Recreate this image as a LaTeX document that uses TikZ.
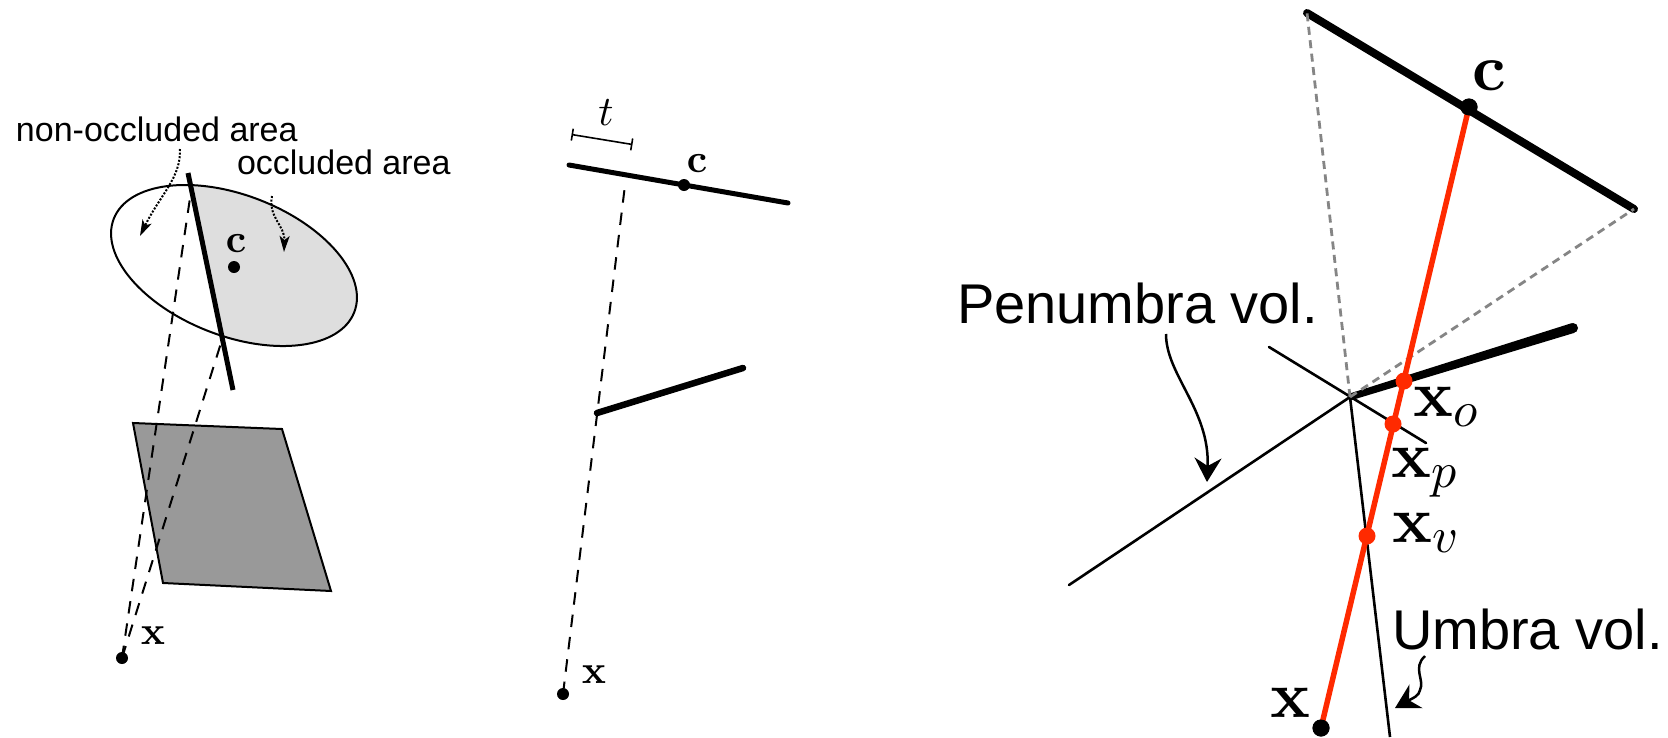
\documentclass[tikz,border=0pt]{standalone}
\usepackage{fontspec}
\setmainfont{Liberation Sans}
\usetikzlibrary{arrows.meta}
\definecolor{redline}{HTML}{FF2A00}
\definecolor{lightfill}{HTML}{DEDEDE}
\definecolor{quadfill}{HTML}{999999}
\definecolor{ghost}{HTML}{858585}
\newcommand{\mfs}[1]{\fontsize{#1}{#1}\selectfont}
\font\bfmid=cmbx10 at 40pt
\font\bfbig=cmbx10 at 66pt
\font\mibig=cmmi10 at 50pt
\font\mit=cmmi10 at 42pt
\newcommand{\vecsub}[1]{{\bfbig x}\lower 10.5pt\hbox{\mibig #1}}
\tikzset{
  x=1pt,y=-1pt,
  lbl/.style={inner sep=0pt,outer sep=0pt,anchor=base west},
  smalltxt/.style={lbl,font=\mfs{34}},
  bigtxt/.style={lbl,font=\mfs{56}},
  midmath/.style={inner sep=0pt,outer sep=0pt,anchor=base,font=\bfmid},
  bigmath/.style={lbl},
  dotb/.style={circle,fill=black,inner sep=0pt,outer sep=0pt,minimum size=12pt},
  dotbig/.style={circle,fill=black,inner sep=0pt,outer sep=0pt,minimum size=17pt},
  dotred/.style={circle,fill=redline,inner sep=0pt,outer sep=0pt,minimum size=17pt},
  blade/.style={line width=5pt,line cap=butt},
  dashray/.style={line width=2pt,dash pattern=on 12.5pt off 10pt},
  dotcurve/.style={line width=2pt,dash pattern=on 2pt off 1.6pt,-{Stealth[length=16pt,width=10pt,inset=4pt]}},
  inkcurve/.style={line width=2.5pt,-{Stealth[length=24pt,width=27pt,inset=8pt]}},
  wedge/.style={line width=2.6pt,line cap=round},
  ghostline/.style={line width=2.8pt,ghost,dash pattern=on 8pt off 5.5pt},
}
\begin{document}
\begin{tikzpicture}
\path[use as bounding box] (0,0) rectangle (1668,737);

% ---- left panel
\coordinate (elc) at (234,265.5);
\coordinate (bladeA) at (188,173);
\coordinate (bladeB) at (233,390);
\coordinate (rayA) at (190,198);
\coordinate (rayB) at (221,343);
\begin{scope}
  \clip (bladeA) -- (bladeB) -- (420,390) -- (420,173) -- cycle;
  \fill[lightfill] (elc) circle[x radius=129,y radius=70.4,rotate=-21.2];
\end{scope}
\draw[line width=2pt] (elc) circle[x radius=129,y radius=70.4,rotate=-21.2];
\draw[line width=2pt,fill=quadfill,line join=miter] (133,423) -- (282,429) -- (331,591) -- (163,583) -- cycle;
\node[dotb] (xL) at (122,658) {};
\draw[dashray] (xL.center) -- (rayA);
\draw[dashray] (xL.center) -- (rayB);
\draw[blade] (bladeA) -- (bladeB);
\node[dotb] (cL) at (234,267) {};
\node[midmath] (cLt) at (236,252) {c};
\node[midmath] (xLt) at (153,644) {x};
\node[smalltxt] (nonocc) at (16,141) {non-occluded area};
\node[smalltxt] (occ) at (237,174) {occluded area};
\coordinate (nA) at (180,149);
\coordinate (nB) at (140,236);
\coordinate (oA) at (272,196);
\coordinate (oB) at (284,252);
\draw[dotcurve] (nA) .. controls (181,178) and (160,195) .. (nB);
\draw[dotcurve] (oA) .. controls (268,218) and (285,225) .. (oB);

% ---- middle panel
\coordinate (mTopA) at (569,165);
\coordinate (mTopB) at (788,203);
\coordinate (mLowA) at (597,413);
\coordinate (mLowB) at (743,368);
\coordinate (mRay) at (625.5,181);
\node[dotb] (xM) at (563,694) {};
\draw[dashray] (xM.center) -- (mRay);
\draw[line width=5pt,line cap=round] (mTopA) -- (mTopB);
\draw[line width=6.5pt,line cap=round] (mLowA) -- (mLowB);
\node[dotb] (cM) at (684,185) {};
\node[midmath] (cMt) at (697,172) {c};
\node[midmath] (xMt) at (594,683) {x};
\coordinate (tA) at (571.5,134.5);
\coordinate (tB) at (632.5,144.5);
\draw[line width=1.6pt,{Bar[width=12pt]}-{Bar[width=12pt]}] (tA) -- (tB);
\node[inner sep=0pt,font=\mit] (tL) at (606,113) {t};

% ---- right panel
\coordinate (J) at (1350,397);
\coordinate (tTopA) at (1307,13);
\coordinate (tTopB) at (1634,209);
\coordinate (occEnd) at (1573,328);
\coordinate (penA) at (1069,585);
\coordinate (penB) at (1269,347);
\coordinate (penC) at (1426,443);
\coordinate (umbEnd) at (1390,737);
\draw[wedge] (J) -- (penA);
\draw[wedge] (penB) -- (penC);
\draw[wedge,line cap=butt] (J) -- (umbEnd);
\draw[line width=8pt,line cap=round] (tTopA) -- (tTopB);
\fill[black] (1349,393.7) -- (1571.5,323.2) -- (1574.5,332.8) -- (1351,400.3) -- cycle;
\fill[black] (occEnd) circle[radius=5];
\draw[ghostline] (J) -- (tTopA);
\draw[ghostline] (J) -- (tTopB);
\node[dotbig] (xR) at (1321,728) {};
\node[dotbig] (cR) at (1469,107) {};
\draw[redline,line width=5.5pt] (xR.center) -- (cR.center);
\node[dotbig] at (xR) {};
\node[dotbig] at (cR) {};
\node[dotred] (xo) at (1404,381) {};
\node[dotred] (xp) at (1393,424) {};
\node[dotred] (xv) at (1367,536) {};
\node[bigmath] (xoT) at (1413,416) {\vecsub{o}};
\node[bigmath] (xpT) at (1391,477) {\vecsub{p}};
\node[bigmath] (xvT) at (1392,542) {\vecsub{v}};
\node[bigmath,anchor=base,font=\bfbig] (cT) at (1489,90) {c};
\node[bigmath,anchor=base,font=\bfbig] (xT) at (1291,717) {x};
\node[bigtxt] (pen) at (957,323.5) {Penumbra vol.};
\node[bigtxt] (umb) at (1392,649) {Umbra vol.};
\coordinate (pA) at (1166,334);
\coordinate (pB) at (1207,482);
\coordinate (uA) at (1425,656);
\coordinate (uB) at (1395,708);
\draw[inkcurve] (pA) .. controls (1166,375) and (1210,410) .. (pB);
\draw[inkcurve] (uA) .. controls (1412,668) and (1425,680) .. (1420,690) .. controls (1419,696) and (1413,698) .. (uB);
\end{tikzpicture}
\end{document}
